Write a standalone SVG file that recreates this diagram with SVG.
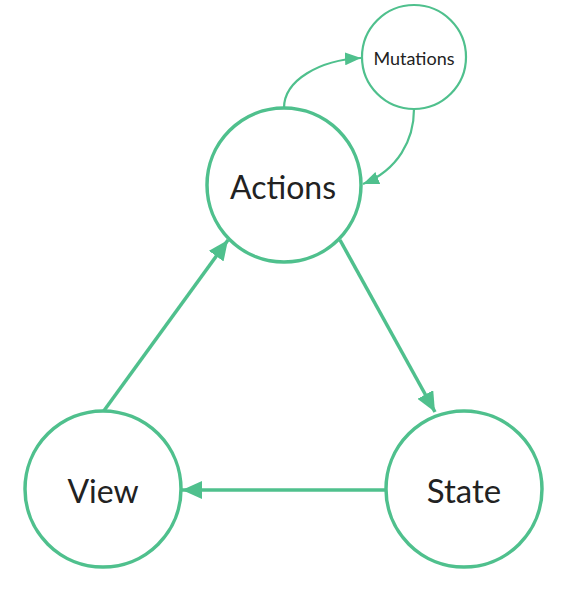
<svg xmlns="http://www.w3.org/2000/svg" width="561" height="591" viewBox="0 0 561 591">
<style>
.node{fill:#fff;stroke:#4fc08d;stroke-width:3.5}
.small{stroke-width:2.2}
.lbl{font-family:Lato,"Liberation Sans",sans-serif;fill:#222;text-anchor:middle;dominant-baseline:central}
.edge{fill:none;stroke:#4fc08d;stroke-width:3.5}
.thin{stroke-width:2.2}
</style>
<defs>
<marker id="ah" markerUnits="userSpaceOnUse" viewBox="0 0 20 18" markerWidth="20" markerHeight="18" refX="20" refY="9" orient="auto">
<path d="M0,0 L20,9 L0,18 Z" fill="#4fc08d"/>
</marker>
<marker id="ahs" markerUnits="userSpaceOnUse" viewBox="0 0 16 13" markerWidth="16" markerHeight="13" refX="16" refY="6.5" orient="auto">
<path d="M0,0 L16,6.5 L0,13 Z" fill="#4fc08d"/>
</marker>
</defs>
<g id="connectors">
<path class="edge" d="M340,240 L435,412" marker-end="url(#ah)"/>
<path class="edge" d="M385,490 L182,490" marker-end="url(#ah)"/>
<path class="edge" d="M103,412 L228,240" marker-end="url(#ah)"/>
<path class="edge thin" d="M284,108 C284,80 320,60 361,58" marker-end="url(#ahs)"/>
<path class="edge thin" d="M414,109 C414,140 398,170 363,184" marker-end="url(#ahs)"/>
</g>
<g id="actions"><circle class="node" cx="284" cy="185" r="77"/><text class="lbl" x="283" y="186" font-size="32">Actions</text></g>
<g id="mutations"><circle class="node small" cx="414" cy="57" r="52"/><text class="lbl" x="414" y="58" font-size="18">Mutations</text></g>
<g id="view"><circle class="node" cx="103" cy="489" r="78"/><text class="lbl" x="103" y="490" font-size="32">View</text></g>
<g id="state"><circle class="node" cx="464" cy="489" r="78"/><text class="lbl" x="464" y="490" font-size="33">State</text></g>
</svg>
